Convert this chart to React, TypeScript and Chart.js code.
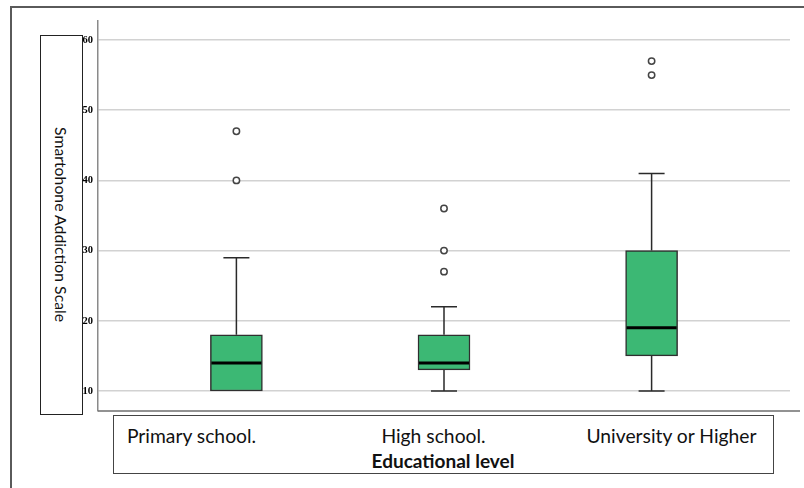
import React, { useEffect, useRef } from "react";
import { Chart, registerables } from "chart.js";

Chart.register(...registerables);

// ---- data ----
const categories = ["Primary school.", "High school.", "University or Higher"];
const lowerWhisker = [10, 10, 10];
const q1 = [10, 13, 15];
const medians = [14, 14, 19];
const q3 = [18, 18, 30];
const upperWhisker = [29, 22, 41];
const outliers = [
  [40, 47],
  [27, 30, 36],
  [55, 57],
];
const yTicks = [10, 20, 30, 40, 50, 60];
const yTitle = "Smartohone Addiction Scale";
const xTitle = "Educational level";

const BOX_W = 52;
const CAP_W = 26;

const boxPlugin = {
  id: "boxWhiskers",
  afterDatasetsDraw(chart: any) {
    const { ctx, scales, chartArea } = chart;
    const x = scales.x;
    const y = scales.y;
    ctx.save();
    // x axis line
    ctx.strokeStyle = "#6e6e6e";
    ctx.lineWidth = 1.5;
    ctx.beginPath();
    ctx.moveTo(chartArea.left, chartArea.bottom);
    ctx.lineTo(chartArea.right + 10, chartArea.bottom);
    ctx.stroke();

    categories.forEach((_, i) => {
      const cx = x.getPixelForValue(i + 1);
      ctx.strokeStyle = "#2a2a2a";
      ctx.lineWidth = 1.5;
      // upper whisker
      const yq3 = y.getPixelForValue(q3[i]);
      const yUp = y.getPixelForValue(upperWhisker[i]);
      ctx.beginPath();
      ctx.moveTo(cx, yq3);
      ctx.lineTo(cx, yUp);
      ctx.moveTo(cx - CAP_W / 2, yUp);
      ctx.lineTo(cx + CAP_W / 2, yUp);
      ctx.stroke();
      // lower whisker
      const yq1 = y.getPixelForValue(q1[i]);
      const yLo = y.getPixelForValue(lowerWhisker[i]);
      if (lowerWhisker[i] < q1[i]) {
        ctx.beginPath();
        ctx.moveTo(cx, yq1);
        ctx.lineTo(cx, yLo);
        ctx.moveTo(cx - CAP_W / 2, yLo);
        ctx.lineTo(cx + CAP_W / 2, yLo);
        ctx.stroke();
      }
      // median
      const ym = y.getPixelForValue(medians[i]);
      ctx.strokeStyle = "#000";
      ctx.lineWidth = 3;
      ctx.beginPath();
      ctx.moveTo(cx - BOX_W / 2 + 1, ym);
      ctx.lineTo(cx + BOX_W / 2 - 1, ym);
      ctx.stroke();
    });
    ctx.restore();
  },
};

export default function App() {
  const canvasRef = useRef<HTMLCanvasElement | null>(null);

  useEffect(() => {
    const canvas = canvasRef.current;
    if (!canvas) return;
    const boxData = categories.map((_, i) => ({ x: i + 1, y: [q1[i], q3[i]] }));
    const outlierData: { x: number; y: number }[] = [];
    outliers.forEach((list, i) => list.forEach((v) => outlierData.push({ x: i + 1, y: v })));

    const chart = new Chart(canvas, {
      type: "bar",
      data: {
        datasets: [
          {
            type: "bar",
            data: boxData as any,
            backgroundColor: "#3cb874",
            borderColor: "#2f2f2f",
            borderWidth: 1.5,
            borderSkipped: false,
            barThickness: BOX_W,
          } as any,
          {
            type: "scatter",
            data: outlierData,
            pointRadius: 3.2,
            pointBackgroundColor: "#ffffff",
            pointBorderColor: "#444",
            pointBorderWidth: 1.5,
          } as any,
        ],
      },
      options: {
        responsive: false,
        animation: false,
        events: [],
        layout: { padding: { top: 21, right: 14, bottom: 77, left: 0 } },
        plugins: { legend: { display: false }, tooltip: { enabled: false } },
        scales: {
          x: {
            type: "linear",
            min: 1 / 3,
            max: 11 / 3,
            offset: false,
            display: false,
          },
          y: {
            type: "linear",
            min: 7.15,
            max: 62.71,
            afterBuildTicks: (scale: any) => {
              scale.ticks = yTicks.map((v) => ({ value: v }));
            },
            afterFit: (scale: any) => {
              scale.width = 98;
            },
            grid: { color: "#d2d2d2", lineWidth: 1.5, drawTicks: false },
            border: { display: true, color: "#8a8a8a", width: 1.5 },
            ticks: {
              color: "#000",
              padding: 5,
              font: { family: "'Liberation Serif'", size: 10.5, weight: "bold" },
            },
          },
        },
      },
      plugins: [boxPlugin],
    });
    return () => chart.destroy();
  }, []);

  const labelFont = "Lato, 'Open Sans', sans-serif";
  const labelCenters = [191.5, 433.5, 671.5];

  return (
    <div
      style={{
        position: "fixed",
        left: 0,
        top: 0,
        width: 804,
        height: 488,
        overflow: "hidden",
        background: "#fff",
        fontFamily: labelFont,
      }}
    >
      <div
        style={{
          position: "absolute",
          left: 10,
          top: 6,
          width: 900,
          height: 600,
          border: "2px solid #5a5a5a",
        }}
      />
      <div
        style={{
          position: "absolute",
          left: 40,
          top: 35,
          width: 41,
          height: 378,
          border: "1.5px solid #222",
          display: "flex",
          alignItems: "center",
          justifyContent: "center",
        }}
      >
        <span
          style={{
            writingMode: "vertical-rl",
            fontSize: 15.8,
            color: "#111",
            whiteSpace: "nowrap",
          }}
        >
          {yTitle}
        </span>
      </div>
      <div
        style={{
          position: "absolute",
          left: 113,
          top: 415,
          width: 659,
          height: 57,
          border: "1.5px solid #444",
        }}
      />
      {categories.map((c, i) => (
        <div
          key={c}
          style={{
            position: "absolute",
            left: labelCenters[i] - 150,
            width: 300,
            top: 424,
            textAlign: "center",
            fontSize: 19.3,
            color: "#111",
            whiteSpace: "nowrap",
            lineHeight: "24px",
          }}
        >
          {c}
        </div>
      ))}
      <div
        style={{
          position: "absolute",
          left: 443 - 150,
          width: 300,
          top: 449,
          textAlign: "center",
          fontSize: 19,
          fontWeight: "bold",
          color: "#111",
          whiteSpace: "nowrap",
          lineHeight: "24px",
        }}
      >
        {xTitle}
      </div>
      <canvas
        ref={canvasRef}
        width={804}
        height={488}
        style={{ position: "absolute", left: 0, top: 0, width: 804, height: 488 }}
      />
    </div>
  );
}
